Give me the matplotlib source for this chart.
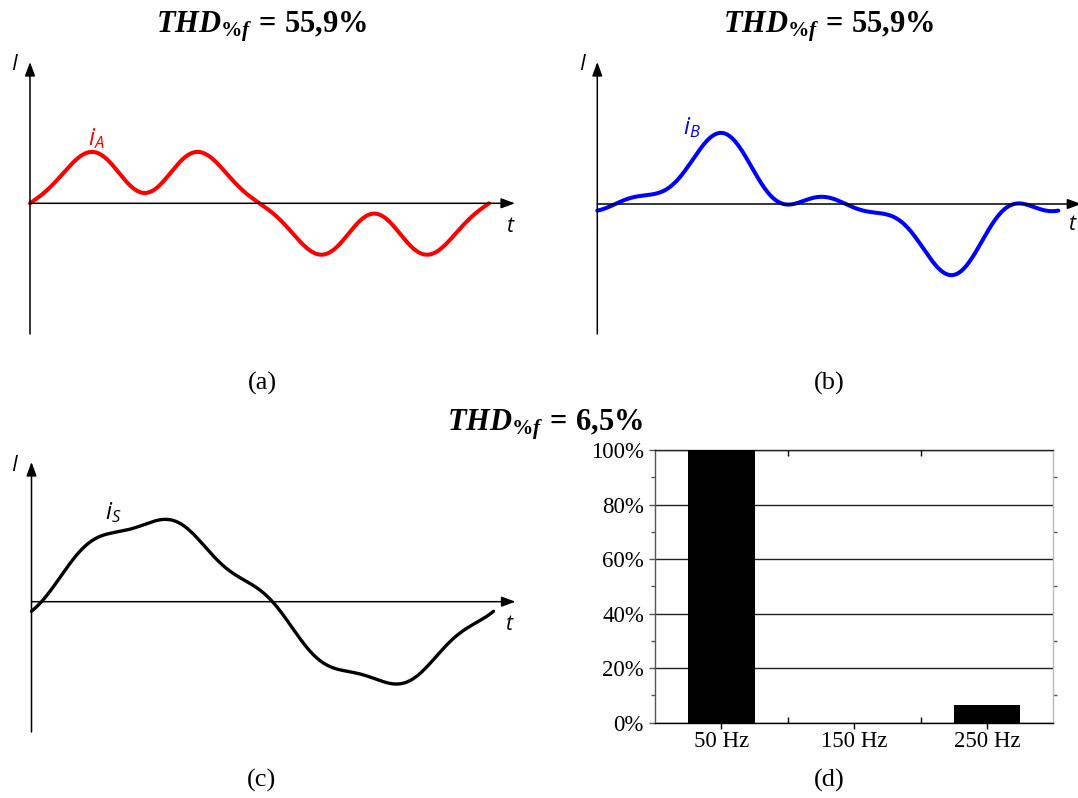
import numpy as np
import matplotlib.pyplot as plt

plt.rcParams['mathtext.fontset'] = 'custom'
plt.rcParams['mathtext.rm'] = 'Liberation Serif:bold'
plt.rcParams['mathtext.it'] = 'Liberation Serif:italic:bold'
plt.rcParams['mathtext.bf'] = 'Liberation Serif:bold'
plt.rcParams['mathtext.sf'] = 'Open Sans:italic'

# harmonic content of the three currents (order, amplitude, phase in deg)
orders = [1, 3, 5]
ia_amp = [41.0, 20.4, 10.3]
ia_phase = [0, 0, 180]
ib_amp = [40.9, 20.8, 10.1]
ib_phase = [-4, 170, -47]
is_amp = [79.6, 1.8, 5.9]
is_phase = [-2.5, -147, -119]

# spectrum of i_S
freqs = ['50 Hz', '150 Hz', '250 Hz']
spectrum = [100, 0, 6.5]

thd_a = '55,9'
thd_b = '55,9'
thd_s = '6,5'

W, H = 1078, 798
fig = plt.figure(figsize=(W / 100, H / 100), dpi=100)


def wave(t, amp, ph):
    return sum(a * np.sin(n * t + np.radians(f)) for n, a, f in zip(orders, amp, ph))


def wave_axes(box, ox, oy, P):
    # axes over a pixel box, origin of the I-t axes at (ox, oy)
    bx0, by0, bx1, by1 = box
    ax = fig.add_axes([bx0 / W, 1 - by1 / H, (bx1 - bx0) / W, (by1 - by0) / H])
    sx = P / (2 * np.pi)
    ax.set_xlim((bx0 - ox) / sx, (bx1 - ox) / sx)
    ax.set_ylim(oy - by1, oy - by0)
    ax.axis('off')
    return ax, sx


def draw_axes(ax, sx, oy, ytop, ybot, xlen):
    arrow = dict(arrowstyle='-|>,head_length=0.6,head_width=0.22', color='black',
                 lw=1.1, mutation_scale=14, shrinkA=0, shrinkB=0)
    ax.annotate('', xy=(0, oy - ytop), xytext=(0, oy - ybot), arrowprops=arrow,
                annotation_clip=False)
    ax.annotate('', xy=(xlen / sx, 0), xytext=(0, 0), arrowprops=arrow,
                annotation_clip=False)


def ftext(x, y, s, **kw):
    return fig.text(x / W, 1 - y / H, s, ha=kw.pop('ha', 'center'),
                    va=kw.pop('va', 'center'), **kw)


def thd_title(x, y, val):
    s = r'$\mathit{THD}_{\mathit{\%f}}\,=\,' + val.replace(',', '{,}') + r'\%$'
    return ftext(x, y, s, fontsize=22, va='baseline')


sans = dict(family='Open Sans', style='italic', fontsize=15.5)
serif = dict(family='Liberation Serif', fontsize=19)
t = np.linspace(0, 2 * np.pi, 800)

# (a)
ax, sx = wave_axes((0, 40, 540, 345), 30, 203.3, 459)
ax.plot(t, wave(t, ia_amp, ia_phase), color='#ff0000', lw=2.9,
        solid_capstyle='round', zorder=3)
draw_axes(ax, sx, 203.3, 62, 334, 485)
ftext(14.5, 65, 'I', **sans)
ftext(510, 227, 't', **sans)
ftext(96, 139, r'$\mathsf{i}_{\mathsf{A}}$', color='#ff0000', fontsize=17)
thd_title(262, 32, thd_a)
ftext(262, 383, '(a)', **serif)

# (b)
ax, sx = wave_axes((540, 40, 1078, 345), 597.3, 204, 461)
ax.plot(t, wave(t, ib_amp, ib_phase), color='#0000ff', lw=2.9,
        solid_capstyle='round', zorder=3)
draw_axes(ax, sx, 204, 62, 334, 484)
ftext(582, 65, 'I', **sans)
ftext(1068, 224, 't', ha='left', **sans)
ftext(691.5, 128, r'$\mathsf{i}_{\mathsf{B}}$', color='#0000ff', fontsize=17)
thd_title(829, 32, thd_b)
ftext(829, 383, '(b)', **serif)

# (c)
ax, sx = wave_axes((0, 440, 540, 745), 31.5, 601.7, 462)
ax.plot(t, wave(t, is_amp, is_phase), color='black', lw=2.4,
        solid_capstyle='round', zorder=3)
draw_axes(ax, sx, 601.7, 462, 732, 484)
ftext(14.5, 465, 'I', **sans)
ftext(509, 625, 't', **sans)
ftext(113.6, 513, r'$\mathsf{i}_{\mathsf{S}}$', color='black', fontsize=17)
ftext(262, 780, '(c)', **serif)

# (d) spectrum
ax = fig.add_axes([655 / W, 1 - 722.7 / H, 398.3 / W, 272.7 / H])
x = np.arange(len(freqs))
ax.bar(x, spectrum, width=0.5, color='black', zorder=3)
ax.set_xlim(-0.5, len(freqs) - 0.5)
ax.set_ylim(0, 100)
ax.set_yticks(range(0, 101, 20))
ax.set_yticklabels(['%d%%' % v for v in range(0, 101, 20)])
ax.set_yticks(range(10, 100, 20), minor=True)
ax.set_xticks(x)
ax.set_xticklabels(freqs)
ax.set_xticks([0.5, 1.5], minor=True)
ax.yaxis.grid(True, color='#222222', lw=1.0, zorder=1)
for lab in ax.get_xticklabels() + ax.get_yticklabels():
    lab.set_family('Liberation Serif')
    lab.set_fontsize(16.5)
ax.tick_params(axis='y', which='major', direction='out', length=4, width=1,
               color='#555555', pad=4)
ax.tick_params(axis='y', which='minor', direction='out', length=3, width=1,
               color='#555555', right=True)
ax.tick_params(axis='x', which='major', direction='out', length=4, width=1, pad=2)
ax.tick_params(axis='x', which='minor', direction='in', length=4, width=1, top=True)
ax.spines['left'].set_color('#555555')
ax.spines['bottom'].set_color('black')
ax.spines['right'].set_color('#bbbbbb')
ax.spines['top'].set_color('#222222')
for s in ax.spines.values():
    s.set_linewidth(1.0)
thd_title(545, 430, thd_s)
ftext(829, 780, '(d)', **serif)

plt.savefig('out.png', dpi=100)
